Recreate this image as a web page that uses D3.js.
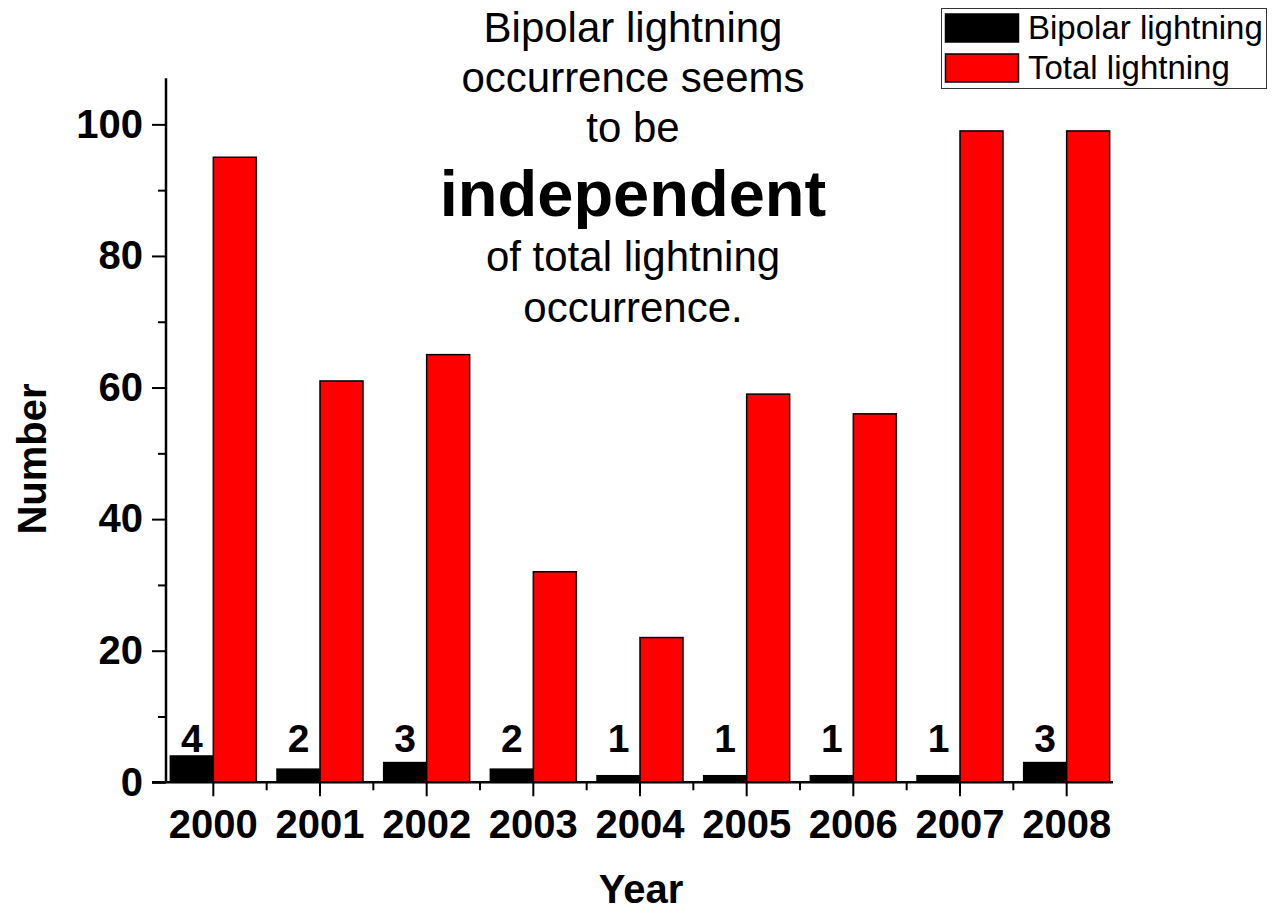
<!DOCTYPE html>
<html>
<head>
<meta charset="utf-8">
<script src="https://cdn.jsdelivr.net/npm/d3@7/dist/d3.min.js"></script>
<style>
  body { margin: 0; background: #fff; }
  svg { font-family: "Liberation Sans", Arial, sans-serif; }
</style>
</head>
<body>
<div id="chart"></div>
<script>
// data
var years = ["2000", "2001", "2002", "2003", "2004", "2005", "2006", "2007", "2008"];
var bipolar = [4, 2, 3, 2, 1, 1, 1, 1, 3];
var total = [95, 61, 65, 32, 22, 59, 56, 99, 99];
var yMajorTicks = [0, 20, 40, 60, 80, 100];
var yMinorTicks = [10, 30, 50, 70, 90];
var seriesNames = ["Bipolar lightning", "Total lightning"];
var seriesColors = ["#000000", "#ff0000"];
var noteLines = ["Bipolar lightning", "occurrence seems", "to be", "independent", "of total lightning", "occurrence."];

var W = 1272, H = 913;
var axisX = 166, axisY = 782.3;
var barW = 43;

var svg = d3.select("#chart").append("svg")
    .attr("width", W)
    .attr("height", H);

var x = d3.scaleBand().domain(years).range([160, 1120]).paddingInner(0).paddingOuter(0);
var y = d3.scaleLinear().domain([0, 107]).range([axisY, 78.3]);

var rows = years.map(function(d, i) { return {year: d, bip: bipolar[i], tot: total[i]}; });

// bars
var groups = svg.append("g").attr("class", "bars")
    .selectAll("g").data(rows).enter().append("g");

groups.append("rect")
    .attr("x", function(d) { return x(d.year) + x.bandwidth() / 2 - barW; })
    .attr("y", function(d) { return y(d.bip); })
    .attr("width", barW)
    .attr("height", function(d) { return y(0) - y(d.bip); })
    .attr("fill", seriesColors[0])
    .attr("stroke", "#000")
    .attr("stroke-width", 1.5);

groups.append("rect")
    .attr("x", function(d) { return x(d.year) + x.bandwidth() / 2; })
    .attr("y", function(d) { return y(d.tot); })
    .attr("width", barW)
    .attr("height", function(d) { return y(0) - y(d.tot); })
    .attr("fill", seriesColors[1])
    .attr("stroke", "#000")
    .attr("stroke-width", 1.5);

// value labels over the black bars
groups.append("text")
    .attr("x", function(d) { return x(d.year) + x.bandwidth() / 2 - barW / 2; })
    .attr("y", y(0) - 30)
    .attr("text-anchor", "middle")
    .style("font-size", "39px")
    .style("font-weight", "bold")
    .text(function(d) { return d.bip; });

// y axis
var yAxis = d3.axisLeft(y).tickValues(yMajorTicks).tickSize(14).tickPadding(9);
var yAxisMinor = d3.axisLeft(y).tickValues(yMinorTicks).tickSize(8).tickFormat("");

var gy = svg.append("g").attr("transform", "translate(" + axisX + ",0)").call(yAxis);
svg.append("g").attr("transform", "translate(" + axisX + ",0)").call(yAxisMinor);
svg.selectAll(".domain").remove();
gy.selectAll("text")
    .style("font-size", "40px")
    .style("font-weight", "bold")
    .attr("fill", "#000");

// x axis
var xAxis = d3.axisBottom(x).tickSize(14).tickSizeOuter(0);
var gx = svg.append("g").attr("transform", "translate(0," + axisY + ")").call(xAxis);
gx.select(".domain").remove();
gx.selectAll("text")
    .attr("y", 56)
    .attr("dy", 0)
    .style("font-size", "40px")
    .style("font-weight", "bold")
    .attr("fill", "#000");

// minor x ticks between year groups
svg.append("g").selectAll("line")
    .data(years.slice(1)).enter().append("line")
    .attr("x1", function(d) { return x(d); })
    .attr("x2", function(d) { return x(d); })
    .attr("y1", axisY)
    .attr("y2", axisY + 8)
    .attr("stroke", "#000");

svg.selectAll(".tick line").attr("stroke", "#000");
svg.selectAll("line").attr("stroke-width", 2);

// axis lines
svg.append("line")
    .attr("x1", axisX).attr("x2", axisX)
    .attr("y1", y.range()[1]).attr("y2", axisY)
    .attr("stroke", "#000").attr("stroke-width", 2.5);
svg.append("line")
    .attr("x1", 152).attr("x2", 1113)
    .attr("y1", axisY).attr("y2", axisY)
    .attr("stroke", "#000").attr("stroke-width", 2.5);

// axis titles
svg.append("text")
    .attr("x", 641)
    .attr("y", 903)
    .attr("text-anchor", "middle")
    .style("font-size", "40px")
    .style("font-weight", "bold")
    .text("Year");

svg.append("text")
    .attr("transform", "translate(46,459) rotate(-90)")
    .attr("text-anchor", "middle")
    .style("font-size", "40px")
    .style("font-weight", "bold")
    .text("Number");

// annotation
var noteY = [42, 92, 142, 216, 271, 322];
svg.append("g").selectAll("text")
    .data(noteLines).enter().append("text")
    .attr("x", 633)
    .attr("y", function(d, i) { return noteY[i]; })
    .attr("text-anchor", "middle")
    .style("font-size", function(d) { return d === "independent" ? "65px" : "42px"; })
    .style("font-weight", function(d) { return d === "independent" ? "bold" : "normal"; })
    .text(function(d) { return d; });

// legend
var legend = svg.append("g");
legend.append("rect")
    .attr("x", 941.5).attr("y", 8.5)
    .attr("width", 325).attr("height", 80)
    .attr("fill", "#fff")
    .attr("stroke", "#333")
    .attr("stroke-width", 1);
var li = legend.selectAll("g.item").data(seriesNames).enter().append("g").attr("class", "item")
    .attr("transform", function(d, i) { return "translate(0," + (i * 40) + ")"; });
li.append("rect")
    .attr("x", 945.5).attr("y", 14)
    .attr("width", 73).attr("height", 28)
    .attr("fill", function(d, i) { return seriesColors[i]; })
    .attr("stroke", "#000")
    .attr("stroke-width", 1.5);
li.append("text")
    .attr("x", 1028)
    .attr("y", 39)
    .style("font-size", "33px")
    .text(function(d) { return d; });
</script>
</body>
</html>
